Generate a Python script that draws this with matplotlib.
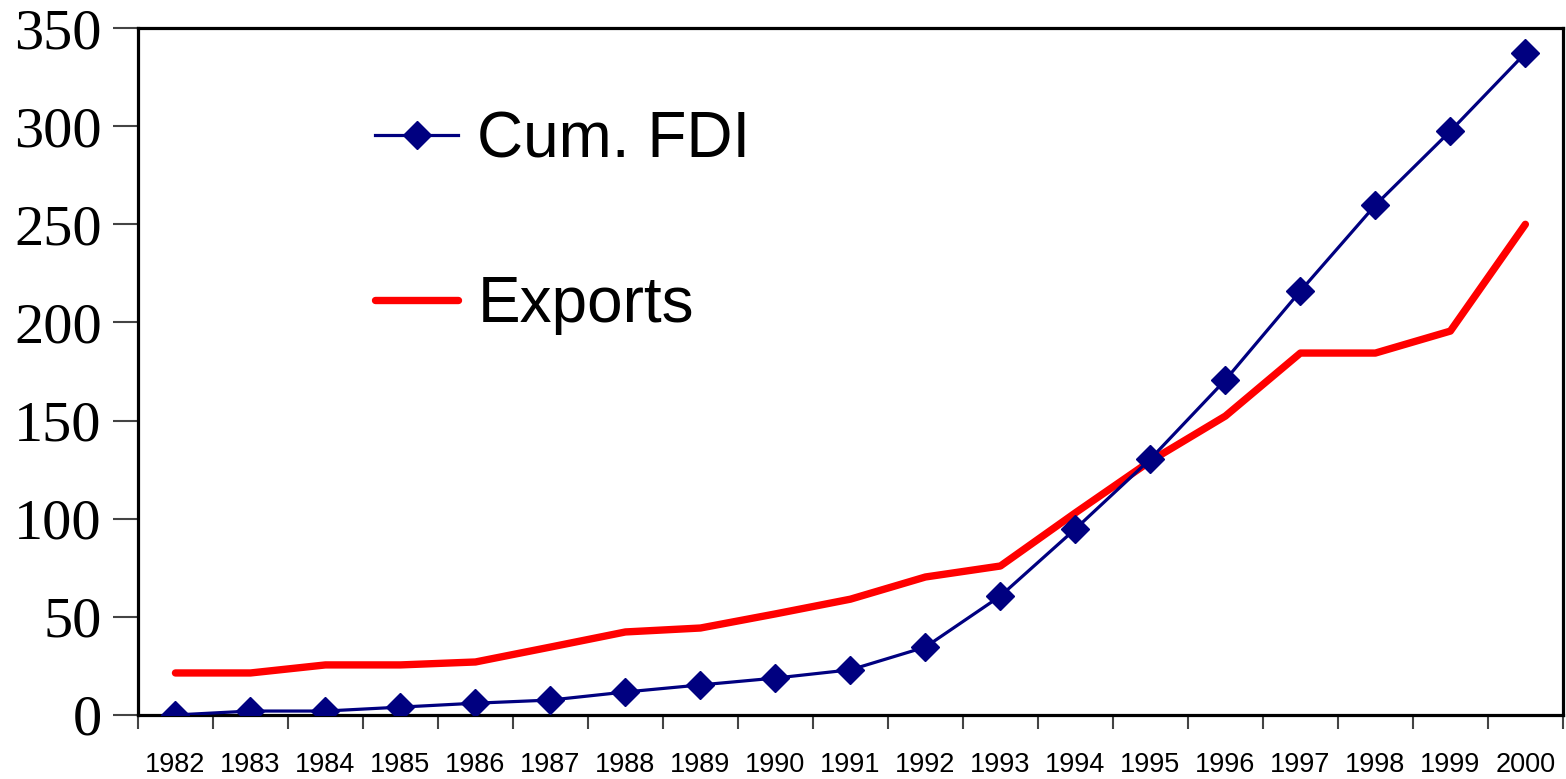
import matplotlib.pyplot as plt
from matplotlib.ticker import FixedLocator, NullFormatter

years = [str(y) for y in range(1982, 2001)]
cum_fdi = [0, 2, 2, 4, 6, 7.6, 11.7, 15.3, 18.8, 23, 34.6, 60.6, 94.8,
           130.4, 170.7, 216, 259.8, 297.5, 337.2]
exports = [21.4, 21.4, 25.5, 25.5, 27, 34.6, 42.3, 44.3, 51.5, 59, 70.3,
           75.9, 103, 129.4, 152.3, 184.4, 184.4, 195.6, 250]
y_ticks = [0, 50, 100, 150, 200, 250, 300, 350]

sans = ['Liberation Sans', 'DejaVu Sans']

fig = plt.figure(figsize=(15.66, 7.79), dpi=100)
ax = fig.add_axes([0.0881, 0.0822, 0.9099, 0.8818])

x = list(range(len(years)))
ax.plot(x, cum_fdi, color='#000080', lw=2.3, marker='D', markersize=14,
        label='Cum. FDI', solid_joinstyle='round', zorder=3)
ax.plot(x, exports, color='#ff0000', lw=5.3, label='Exports',
        solid_joinstyle='round', solid_capstyle='round', zorder=2)

ax.set_xlim(-0.5, len(years) - 0.5)
ax.set_ylim(0, 350)

ax.set_xticks(x)
ax.set_xticklabels(years, fontfamily=sans, fontsize=19.5)
ax.xaxis.set_minor_locator(FixedLocator([i - 0.5 for i in range(len(years) + 1)]))
ax.xaxis.set_minor_formatter(NullFormatter())
ax.tick_params(axis='x', which='major', length=0, pad=27)
ax.tick_params(axis='x', which='minor', length=10, width=1.5, color='#444444')

ax.set_yticks(y_ticks)
ax.set_yticklabels([str(v) for v in y_ticks], fontfamily='Liberation Serif', fontsize=42)
ax.tick_params(axis='y', length=18, width=1.5, color='#444444', pad=8)

for s in ax.spines.values():
    s.set_linewidth(2.3)

leg = ax.legend(loc='upper left', bbox_to_anchor=(0.144, 0.926), frameon=False,
                prop={'family': sans, 'size': 46}, handlelength=1.3,
                handletextpad=0.3, labelspacing=1.63, borderpad=0)

fig.savefig('out.png', dpi=100)
